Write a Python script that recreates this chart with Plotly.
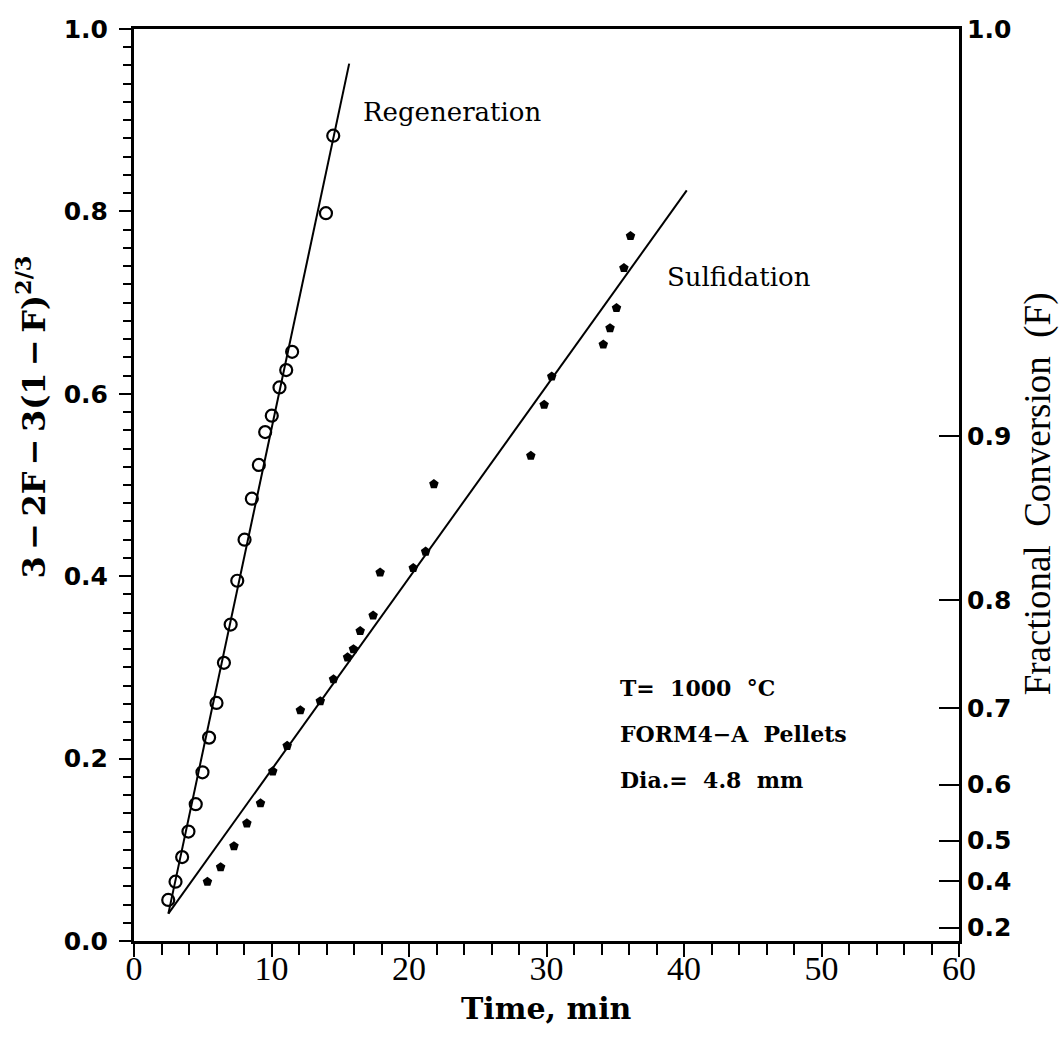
import plotly.graph_objects as go

# ---- data ----
regen_t = [2.49, 3.02, 3.50, 3.96, 4.49, 4.98, 5.46, 6.00, 6.54, 7.03, 7.51,
           8.04, 8.57, 9.08, 9.54, 10.02, 10.58, 11.07, 11.50, 13.96, 14.49]
regen_v = [0.045, 0.065, 0.092, 0.120, 0.150, 0.185, 0.223, 0.261, 0.305, 0.347, 0.395,
           0.440, 0.485, 0.522, 0.558, 0.576, 0.607, 0.626, 0.646, 0.798, 0.883]

sulf_t = [5.34, 6.30, 7.27, 8.21, 9.20, 10.09, 11.14, 12.10, 13.55, 14.51, 15.53,
          15.96, 16.45, 17.39, 17.90, 20.31, 21.21, 21.81, 28.86, 29.83, 30.38,
          34.13, 34.62, 35.09, 35.63, 36.11]
sulf_v = [0.065, 0.081, 0.104, 0.129, 0.151, 0.186, 0.214, 0.253, 0.263, 0.287, 0.311,
          0.320, 0.340, 0.357, 0.404, 0.409, 0.427, 0.501, 0.532, 0.588, 0.619,
          0.654, 0.672, 0.694, 0.738, 0.773]

regen_fit_t = [2.5, 15.65]
regen_fit_v = [0.030, 0.962]
sulf_fit_t = [2.5, 40.2]
sulf_fit_v = [0.030, 0.823]

x_ticks = [0, 10, 20, 30, 40, 50, 60]
y_ticks = [0.0, 0.2, 0.4, 0.6, 0.8, 1.0]
y_labels = ["0.0", "0.2", "0.4", "0.6", "0.8", "1.0"]
conv_F = [0.2, 0.4, 0.5, 0.6, 0.7, 0.8, 0.9, 1.0]
conv_labels = ["0.2", "0.4", "0.5", "0.6", "0.7", "0.8", "0.9", "1.0"]


def g(F):
    # axis mapping: 3 - 2F - 3(1-F)^(2/3)
    return 3 - 2 * F - 3 * (1 - F) ** (2.0 / 3.0)


conv_pos = [g(F) for F in conv_F]

W, H = 1063, 1041
ML, MR, MT, MB = 134, 104, 29, 100

fig = go.Figure()

fig.add_trace(go.Scatter(x=regen_fit_t, y=regen_fit_v, mode="lines",
                         line=dict(color="black", width=2), showlegend=False))
fig.add_trace(go.Scatter(x=sulf_fit_t, y=sulf_fit_v, mode="lines",
                         line=dict(color="black", width=2), showlegend=False))
fig.add_trace(go.Scatter(x=regen_t, y=regen_v, mode="markers",
                         marker=dict(symbol="circle-open", size=12, color="black",
                                     line=dict(width=2.2, color="black")),
                         showlegend=False))
fig.add_trace(go.Scatter(x=sulf_t, y=sulf_v, mode="markers",
                         marker=dict(symbol="pentagon", size=10, color="black"),
                         showlegend=False))
# carrier trace for the right-hand conversion axis (invisible)
fig.add_trace(go.Scatter(x=[0], y=[0], yaxis="y2", mode="markers", showlegend=False,
                         marker=dict(size=1, opacity=0), hoverinfo="skip"))

tick_font = dict(family="DejaVu Sans", size=25, color="black", weight="bold")
serif = "Liberation Serif"

fig.update_layout(
    width=W, height=H,
    margin=dict(l=ML, r=MR, t=MT, b=MB),
    paper_bgcolor="white", plot_bgcolor="white",
    xaxis=dict(range=[0, 60], tickvals=x_ticks, ticks="outside", ticklen=13,
               tickwidth=2, tickcolor="black", showline=True, linewidth=3,
               linecolor="black", mirror=True, showgrid=False, zeroline=False,
               tickfont=dict(family=serif, size=34, color="black"),
               ticklabelstandoff=-18,
               minor=dict(dtick=2, ticks="outside", ticklen=11, tickwidth=2,
                          tickcolor="black", showgrid=False)),
    yaxis=dict(range=[0, 1], tickvals=y_ticks, ticktext=y_labels, ticks="outside",
               ticklen=12, tickwidth=2, tickcolor="black", showline=True,
               linewidth=3, linecolor="black", showgrid=False, zeroline=False,
               tickfont=tick_font, ticklabelstandoff=6,
               minor=dict(dtick=0.02, ticks="outside", ticklen=8, tickwidth=2,
                          tickcolor="black", showgrid=False)),
    yaxis2=dict(range=[0, 1], overlaying="y", side="right", anchor="x",
                tickvals=conv_pos, ticktext=conv_labels, ticks="inside",
                ticklen=20, tickwidth=2, tickcolor="black", showline=True,
                linewidth=3, linecolor="black", showgrid=False, zeroline=False,
                tickfont=tick_font),
)

ann_font = dict(family="DejaVu Serif", size=26, color="black")
fig.add_annotation(x=16.5, y=0.909, text="Regeneration", showarrow=False,
                   xanchor="left", yanchor="middle", font=ann_font)
fig.add_annotation(x=38.6, y=0.728, text="Sulfidation", showarrow=False,
                   xanchor="left", yanchor="middle", font=ann_font)

blk_font = dict(family="DejaVu Serif", size=22, color="black", weight="bold")
fig.add_annotation(x=35.2, y=0.277, text="T=  1000  °C", showarrow=False,
                   xanchor="left", yanchor="middle", font=blk_font)
fig.add_annotation(x=35.2, y=0.227, text="FORM4−A  Pellets", showarrow=False,
                   xanchor="left", yanchor="middle", font=blk_font)
fig.add_annotation(x=35.2, y=0.177, text="Dia.=  4.8  mm", showarrow=False,
                   xanchor="left", yanchor="middle", font=blk_font)

# axis titles placed as text
fig.add_annotation(xref="paper", yref="paper", x=0.5, y=-0.074,
                   text="Time, min", showarrow=False,
                   xanchor="center", yanchor="middle",
                   font=dict(family="DejaVu Serif", size=30, color="black", weight="bold"))
fig.add_annotation(xref="paper", yref="paper", x=-0.125, y=0.575,
                   text="3\u2009−\u20092F\u2009−\u20093(1\u2009−\u2009F)<sup>2/3</sup>",
                   textangle=-90, showarrow=False,
                   xanchor="center", yanchor="middle",
                   font=dict(family="DejaVu Serif", size=32, color="black", weight="bold"))
fig.add_annotation(xref="paper", yref="paper", x=1.096, y=0.49,
                   text="Fractional  Conversion  (F)", textangle=-90, showarrow=False,
                   xanchor="center", yanchor="middle",
                   font=dict(family=serif, size=37, color="black"))

fig.write_html("out.html")
